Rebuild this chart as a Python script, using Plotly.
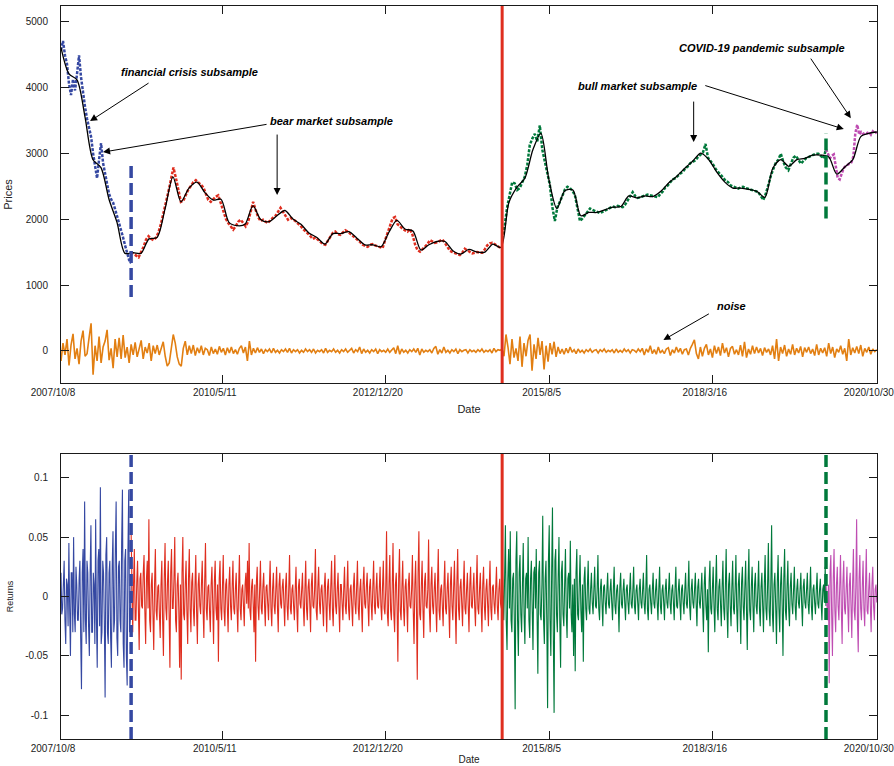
import pandas as pd
import plotly.graph_objects as go

# ---------------- data ----------------
start_date = "2007-10-08"
end_date = "2020-10-30"
# boundaries between subsamples: financial crisis | bear | bull | COVID-19
split_dates = ["2008-11-21", "2014-10-31", "2020-01-07"]
tick_dates = ["2007-10-08", "2010-05-11", "2012-12-20", "2015-08-05", "2018-03-16", "2020-10-30"]
tick_labels = ["2007/10/8", "2010/5/11", "2012/12/20", "2015/8/5", "2018/3/16", "2020/10/30"]

price_ticks = [0, 1000, 2000, 3000, 4000, 5000]
return_ticks = [-0.1, -0.05, 0, 0.05, 0.1]
return_tick_labels = ["-0.1", "-0.05", "0", "0.05", "0.1"]

crisis_prices = [
    4560, 4700, 4480, 4350, 4050, 3880, 4120, 3950, 4200, 4480,
    4150, 3900, 3700, 3520, 3380, 3250, 3000, 2780, 2620, 2900,
    3150, 2850, 2700, 2560, 2380, 2300, 2250, 2150, 2050, 1920,
    1820, 1720, 1600, 1480, 1380, 1330,
]
bear_prices = [
    1500, 1470, 1440, 1420, 1500, 1580, 1690, 1740, 1700, 1680,
    1720, 1800, 1930, 2080, 2250, 2420, 2600, 2780, 2620, 2450,
    2260, 2280, 2360, 2450, 2500, 2560, 2590, 2560, 2520, 2480,
    2380, 2290, 2260, 2300, 2340, 2360, 2250, 2120, 2010, 1940,
    1880, 1840, 1890, 1960, 1990, 1940, 1890, 1960, 2100, 2260,
    2140, 2030, 1970, 1990, 1960, 1940, 1990, 2020, 2050, 2110,
    2170, 2110, 2040, 1990, 2020, 2000, 1970, 1930, 1900, 1850,
    1820, 1780, 1740, 1700, 1720, 1690, 1650, 1620, 1610, 1670,
    1740, 1790, 1810, 1770, 1760, 1790, 1830, 1810, 1780, 1750,
    1720, 1680, 1650, 1610, 1590, 1580, 1610, 1620, 1600, 1590,
    1570, 1560, 1680, 1800, 1900, 2010, 2030, 1920, 1890, 1850,
    1830, 1810, 1850, 1760, 1620, 1530, 1505, 1540, 1580, 1620,
    1680, 1660, 1640, 1650, 1670, 1690, 1640, 1570, 1520, 1500,
    1480, 1470, 1455, 1490, 1550, 1530, 1500, 1480, 1490, 1500,
    1490, 1490, 1540, 1600, 1630, 1640, 1620, 1590, 1570, 1560,
]
bull_prices = [
    1700, 1900, 2180, 2380, 2560, 2540, 2440, 2470, 2560, 2640,
    2820, 3120, 3220, 3290, 3180, 3420, 3050, 2860, 2720, 2520,
    2180, 1970, 2180, 2260, 2350, 2450, 2490, 2470, 2430, 2360,
    2180, 1970, 2010, 2060, 2110, 2160, 2140, 2120, 2100, 2090,
    2110, 2130, 2150, 2170, 2190, 2180, 2200, 2190, 2180, 2220,
    2290, 2360, 2410, 2350, 2320, 2330, 2350, 2360, 2370, 2360,
    2350, 2340, 2330, 2380, 2420, 2480, 2510, 2560, 2600, 2620,
    2660, 2690, 2720, 2770, 2800, 2850, 2870, 2890, 2940, 2970,
    3010, 3140, 2930, 2880, 2830, 2760, 2720, 2680, 2630, 2580,
    2560, 2510, 2490, 2470, 2460, 2480, 2490, 2470, 2460, 2450,
    2440, 2430, 2410, 2350, 2290, 2380, 2530, 2650, 2760, 2850,
    2900, 2990, 2870, 2780, 2740, 2830, 2930, 2960, 2890, 2840,
    2880, 2920, 2940, 2960, 2970, 2990, 2990, 2950, 2920, 3060,
]
covid_prices = [
    3060, 2980, 2920, 2960, 2980, 2800, 2620, 2600, 2700, 2770,
    2800, 2820, 2840, 2860, 2950, 3300, 3430, 3280, 3320, 3290,
    3310, 3300, 3320, 3280, 3330, 3300, 3320,
]
# smoothed price level (black curve)
trend_prices = [
    4600, 4200, 4110, 3550, 2900, 2780, 2300, 1950, 1480, 1490,
    1480, 1700, 1720, 2150, 2640, 2260, 2470, 2560, 2400, 2290,
    2300, 1950, 1900, 1920, 2200, 1990, 1960, 2050, 2130, 2000,
    1920, 1790, 1720, 1620, 1780, 1780, 1810, 1710, 1610, 1610,
    1580, 1800, 1980, 1850, 1820, 1530, 1610, 1660, 1660, 1520,
    1470, 1540, 1500, 1500, 1620, 1570, 2250, 2480, 2620, 3050,
    3300, 2600, 2160, 2430, 2440, 2050, 2100, 2100, 2140, 2180,
    2190, 2350, 2320, 2350, 2340, 2420, 2550, 2650, 2770, 2880,
    3000, 2900, 2710, 2560, 2470, 2470, 2450, 2420, 2330, 2770,
    2900, 2800, 2900, 2920, 2970, 2970, 2940, 2680, 2790, 2900,
    3250, 3300, 3320,
]
# noise component (price minus smoothed level)
noise = [
    -150, 120, -60, 180, -220, 90, 260, -120, 40, -200, 150, 310, -80, -40, 200, 420, -360, 80,
    -150, 220, -180, 60, 150, 320, -140, 40, -260, 180, -90, 200, -120, 240, -100, 60, -180,
    100, -60, 130, -90, 40, 160, -120, 60, -30, 120, -150, 80, -40, 90, -60, 30, 140, -80,
    -230, -180, 60, 250, 120, -90, -200, -230, 40, 150, -60, 80,
    -40, 90, -70, 50, -30, 80, -60, 40, 20, -70, 60, -40, 30, -50, 70, -20, 40, -60, 50, -30,
    60, -40, 20, -50, 40, 80, -30, 60, -150, 150,
    -60, 40, -30, 50, -20, 30, -40, 20, -10, 30, -30, 40, -20, 10, -30, 20, -10, 30, -20, 40,
    -30, 20, -10, 20, -30, 10, -20, 30, -10, 20, -20, 30, -30, 10, -10, 20, -30, 40, -20, 10,
    -10, 30, -20, 10, -30, 20, -10, 30, -20, 10, 40, -30, 20, -10, 60, -40, 30, -20, 10, -30,
    20, -10, 30, -40, 20, -10, 10, -20, 30, -20, 10, 50, -40, 80, -50, 30, -20, 10, -30, 20,
    -10, 30, -20, 40, -60, 30, -20, 10, -10, 20, -30, 40, 70, -50, 20, -30, 60, -20, 10, -30,
    20, -10, 30, -40, 20, -10, 10, 20, -30, 20, -10, 10, -20, 20, -10, 30, -20, 10, -10, 20,
    -30, 40, -10, 20, 10,
    30, -80, 250, 60, -200, 180, -100, 40, -150, 220, -240, 120, -80, 160, 250, -300, 100, -120,
    200, -60, 150, -280, 80, -160, 120, -50, 140, -90, 60, -40,
    30, -50, 40, -30, 60, -20, 20, -40, 30, -20, 10, -30, 20, -10, 30, -20, 10, 20, -30, 20,
    -10, 30, -20, 10, -10, 20, -30, 30, -20, 10, -20, 30, -10, 20, -30, 20, 10, -20, 30, -10,
    40, -60, 30, -20, 80, -40, 20, -50, 60, -30, 10, -40, 30, 50, -70, 20, -30, 60, -20, 40,
    -50, 20, 30, -60, 40, 100, 170, -40, -120, 60,
    -80, 40, 100, -60, 30, -100, 80, -40, 60, -70, 120, -30, 50, -90, 40, 70, -50, 20, -60, 90,
    -80, 140, -100, 30, -50, 80, -40, 60, -30, 40, -70, 50, -20, 30, -60, 80, -120, 180, -150, 60,
    -40, 90, -80, 30, -50, 100, -60, 40, -30, 70, -90, 50, -20, 60, -40, 30, -70, 100, -60, 40,
    -30, 50, -80, 120, -40, 60, -100, 30, -20, 80, -50, 40, -150, 180, -60, 50, -30, 70, -40, 90,
    -80, 40, -20, 60, -50, 30, -10, 20,
]

crisis_returns = [
    .02, -.015, -.01, .02, .03, -.02, -.04, .015, .01, -.025, .045, -.01, -.05, .02, .02,
    -.03, .05, -.015, -.03, .025, .01, -.02, -.02, .015, .03, -.035, -.078, .02, .04, -.03,
    .08, -.02, -.04, .03, .02, -.025, -.05, .02, .06, -.03, -.03, .02, .01, -.04, .065,
    -.02, -.06, .03, .04, -.025, .092, -.04, -.03, .03, .02, -.02, -.085, .035, .05, -.03,
    -.04, .02, .03, -.035, -.06, .025, .055, -.03, -.02, .04, .08, -.035, -.05, .025, .03,
    -.02, -.03, .045, .09, -.04, -.06, .03, .04, -.05, -.075, .04, .09, -.03, -.02, .01,
]
bear_returns = [
    .055, -.015, -.03, .01, .04, -.02, -.02, .012, .03, -.01, -.045, .015, .02, -.008, -.01,
    .02, .035, -.012, -.04, .015, .03, -.01, .065, -.02, -.03, .01, .02, -.015, -.045, .01,
    .04, -.012, -.02, .008, .01, -.015, -.035, .01, .03, -.02, -.05, .015, .045, -.01, -.02,
    .012, .03, -.015, -.06, .02, .04, -.01, -.01, .015, .05, -.02, -.03, .01, .02, -.012,
    -.06, .01, -.07, .02, .05, -.015, -.02, .01, .03, -.012, -.04, .015, .04, -.01, -.03,
    .012, .02, -.01, -.025, .008, .035, -.012, -.04, .01, .02, -.008, -.015, .01, .03, -.01,
    -.035, .012, .045, -.01, -.02, .008, .01, -.012, -.03, .01, .025, -.008, -.04, .012, .03,
    -.01, -.02, .01, -.055, .015, .03, -.01, -.02, .008, .035, -.012, -.025, .01, .015, -.008,
    -.03, .01, .025, -.008, -.02, .008, .03, -.01, -.015, .006, .02, -.01, -.03, .008, .035,
    -.01, -.02, .006, .01, -.008, -.025, .01, .02, -.006, .03, -.01, .045, -.012, -.02, .008,
    .015, -.006, -.03, .01, -.055, .012, .025, -.008, -.02, .006, .03, -.01, -.015, .008, .02,
    -.006, -.025, .008, .01, -.006, -.02, .008, .03, -.01, -.025, .006, .02, -.008, -.015, .006,
    .025, -.008, -.03, .01, .02, -.006, -.01, .008, .015, -.006, -.025, .008, .02, -.008, -.02,
    .006, .035, -.01, -.015, .006, .01, -.008, -.02, .006, .025, -.01, -.03, .008, .015, -.006,
    -.01, .006, .02, -.008, -.025, .006, .03, -.01, -.02, .008, .015, -.006, -.03, .01, .02,
    -.008, -.01, .006, .04, -.012, -.02, .008, .025, -.006, -.015, .006, .01, -.008, -.025, .008,
    .02, -.006, -.03, .008, .015, -.006, -.02, .008, .03, -.01, -.025, .006, .035, -.008, -.015,
    .006, .02, -.008, -.03, .01, .01, -.006, -.02, .006, .025, -.008, -.015, .006, .03, -.01,
    -.02, .006, .01, -.008, -.025, .008, .02, -.006, -.015, .008, .03, -.01, -.02, .006, .015,
    -.008, -.03, .01, .025, -.006, -.01, .008, .02, -.006, -.025, .008, .015, -.006, -.02, .008,
    .03, -.008, -.015, .006, .02, -.008, -.01, .006, .025, -.008,
    -.02, .008, .03, -.01, -.015, .006, .055, -.015, -.025, .01, .035, -.012, -.02, .008, .045,
    -.015, -.03, .01, .02, -.008, -.055, .015, .04, -.012, -.02, .008, .03, -.01, -.025, .008,
    .015, -.006, -.03, .01, .02, -.008, -.01, .006, .035, -.012, -.04, .01, .03, -.01, -.07,
    .02, .055, -.015, -.02, .008, .03, -.01, -.035, .012, .02, -.008, -.01, .006, .048, -.012,
    -.03, .01, .025, -.008, -.015, .006, .02, -.008, -.03, .01, .04, -.012, -.02, .006, .01,
    -.008, -.025, .008, .03, -.01, -.015, .006, .02, -.008, -.035, .01, .025, -.008, -.02, .008,
    .03, -.01, -.04, .012, .04, -.01, -.02, .008, .015, -.006, -.025, .008, .03, -.01, -.015,
    .006, .02, -.008, -.03, .01, .025, -.008, -.01, .006, .02, -.008, -.025, .008, .035, -.01,
    -.015, .006, .02, -.008, -.03, .01, .025, -.008, -.02, .006, .015, -.006, -.025, .008, .03,
    -.01, -.02, .008, .01, -.006, -.015, .006, .025, -.008, -.02, .006, .015, -.006, -.01, .006,
]
bull_returns = [
    .03, -.01, -.02, .015, .06, -.02, -.045, .015, .04, -.01, .055, -.02, -.03, .015, .02,
    -.02, -.095, .03, .055, -.02, -.05, .02, .035, -.015, -.03, .01, .045, -.015, -.04, .015,
    .02, -.01, .05, -.02, -.035, .015, .03, -.01, -.045, .02, .025, -.01, .04, -.015, -.065,
    .02, .03, -.015, -.02, .01, .068, -.02, -.04, .015, .03, -.02, -.094, .03, .06, -.02,
    -.05, .02, .075, -.03, -.098, .03, .04, -.015, -.03, .015, .05, -.02, -.06, .02, .03,
    -.015, -.025, .01, .04, -.015, -.035, .015, .02, -.01, .047, -.015, -.03, .01, -.05, .015,
    -.063, .02, .04, -.015, -.02, .01, .035, -.012, -.03, .01, -.055, .015, .025, -.01, -.02,
    .008, .03, -.01, -.015, .006,
    .02, -.005, -.015, .006, .025, -.008, -.01, .005, .035, -.01, -.02, .006, .015, -.005, -.025,
    .008, .01, -.005, -.015, .005, .02, -.006, -.01, .005, .015, -.005, -.02, .006, .025, -.008,
    -.015, .005, .01, -.005, -.03, .008, .02, -.006, -.01, .005, .015, -.005, -.02, .006, .01,
    -.005, -.015, .005, .02, -.006, -.01, .005, .025, -.008, -.015, .005, .01, -.005, -.02, .006,
    .015, -.005, -.01, .005, .02, -.006, -.015, .005, .035, -.01, -.02, .006, .01, -.005, -.015,
    .005, .02, -.006, -.01, .005, .015, -.005, -.02, .006, .025, -.008, -.015, .005, .01, -.005,
    -.02, .006, .015, -.005, -.01, .005, .02, -.006, -.015, .005, .01, -.005, -.02, .006, .025,
    -.008, -.01, .005, .015, -.005, -.02, .006, .01, -.005, -.015, .005, .02, -.006, -.01, .005,
    .03, -.008, -.02, .006, .015, -.005, -.01, .005, .02, -.006, -.025, .008, .015, -.005, -.01,
    .005,
    .02, -.008, -.03, .01, .025, -.008, -.02, .006, -.047, .012, .03, -.01, -.015, .006, .025,
    -.008, -.03, .01, .035, -.01, -.02, .008, .015, -.006, -.025, .008, .03, -.01, -.02, .008,
    .04, -.012, -.035, .01, .02, -.008, -.025, .008, .03, -.01, -.015, .006, .035, -.01, -.03,
    .01, .02, -.008, -.04, .012, .025, -.008, -.02, .008, .03, -.01, -.045, .012, .04, -.012,
    -.02, .008, .025, -.008, -.03, .01, .02, -.008, -.015, .006, .03, -.01, -.025, .008, .02,
    -.008, -.03, .01, .035, -.01, -.02, .008, .045, -.012, -.025, .01, .06, -.015, -.03, .01,
    .02, -.008, -.04, .012, .035, -.01, -.03, .01, .025, -.008, -.05, .015, .04, -.012, -.02,
    .008, .03, -.01, -.025, .008,
    .02, -.006, -.015, .005, .025, -.008, -.02, .006, .015, -.005, -.01, .005, .02, -.006, -.025,
    .008, .015, -.005, -.01, .005, .02, -.006, -.015, .005, .025, -.008, -.02, .006, .01, -.005,
    -.015, .005, .02, -.006, -.01, .005, .015, -.005, -.02, .006, .01, -.005, .025, -.008,
]
covid_returns = [
    .01, -.005, -.02, .01, -.073, .02, .035, -.015, -.05, .015, .04, -.012, -.03, .01, .025,
    -.008, -.02, .008, .035, -.01, -.04, .012, .03, -.01, -.015, .006, .025, -.008, -.03, .01,
    .02, -.008, -.035, .01, .04, -.012, -.02, .008, .065, -.02, -.047, .015, .035, -.01, -.02,
    .008, .03, -.01, -.025, .008, .04, -.012, -.015, .006, .02, -.008, -.03, .01, .025, -.008,
    -.02, .006, .01, -.005,
]

# value span of the dashed subsample separators in the price panel
separator_spans = {"crisis": (820, 2850), "covid": (2010, 3300)}

# ---------------- styling ----------------
FONT = "Arial, 'Liberation Sans', Helvetica, sans-serif"
BLUE = "#3548a2"
RED = "#df2e1f"
GREEN = "#00793b"
MAGENTA = "#bf4db2"
ORANGE = "#e27f12"
INK = "#1a1a1a"

bounds = [start_date] + split_dates + [end_date]
segments = [
    (crisis_prices, crisis_returns, BLUE),
    (bear_prices, bear_returns, RED),
    (bull_prices, bull_returns, GREEN),
    (covid_prices, covid_returns, MAGENTA),
]

fig = go.Figure()

for i, (prices, rets, color) in enumerate(segments):
    d_price = pd.date_range(bounds[i], bounds[i + 1], periods=len(prices))
    fig.add_trace(go.Scatter(
        x=d_price, y=prices, mode="lines", xaxis="x", yaxis="y",
        line=dict(color=color, width=2.5, dash="3px,1.5px"), hoverinfo="skip"))

d_trend = pd.date_range(start_date, end_date, periods=len(trend_prices))
fig.add_trace(go.Scatter(
    x=d_trend, y=trend_prices, mode="lines", xaxis="x", yaxis="y",
    line=dict(color="black", width=1.3, shape="spline", smoothing=0.8), hoverinfo="skip"))

d_noise = pd.date_range(start_date, end_date, periods=len(noise))
fig.add_trace(go.Scatter(
    x=d_noise, y=noise, mode="lines", xaxis="x", yaxis="y",
    line=dict(color=ORANGE, width=1.6), hoverinfo="skip"))

for i, (prices, rets, color) in enumerate(segments):
    d_ret = pd.date_range(bounds[i], bounds[i + 1], periods=len(rets))
    fig.add_trace(go.Scatter(
        x=d_ret, y=rets, mode="lines", xaxis="x2", yaxis="y2",
        line=dict(color=color, width=1.1), hoverinfo="skip"))

# subsample separators
dash_pat = "12px,5px"
fig.add_shape(type="line", xref="x", yref="y", x0=split_dates[0], x1=split_dates[0],
              y0=separator_spans["crisis"][0], y1=separator_spans["crisis"][1],
              line=dict(color=BLUE, width=3.5, dash=dash_pat))
fig.add_shape(type="line", xref="x", yref="y domain", x0=split_dates[1], x1=split_dates[1],
              y0=0, y1=1, line=dict(color=RED, width=3))
fig.add_shape(type="line", xref="x", yref="y", x0=split_dates[2], x1=split_dates[2],
              y0=separator_spans["covid"][0], y1=separator_spans["covid"][1],
              line=dict(color=GREEN, width=3.5, dash=dash_pat))
fig.add_shape(type="line", xref="x2", yref="y2 domain", x0=split_dates[0], x1=split_dates[0],
              y0=0, y1=1, line=dict(color=BLUE, width=3.5, dash=dash_pat))
fig.add_shape(type="line", xref="x2", yref="y2 domain", x0=split_dates[1], x1=split_dates[1],
              y0=0, y1=1, line=dict(color=RED, width=3))
fig.add_shape(type="line", xref="x2", yref="y2 domain", x0=split_dates[2], x1=split_dates[2],
              y0=0, y1=1, line=dict(color=GREEN, width=3.5, dash=dash_pat))

# labels
label_font = dict(family=FONT, size=11, color="black")
labels = [
    ("financial crisis subsample", 0.158, 0.910),
    ("bear market subsample", 0.332, 0.843),
    ("bull market subsample", 0.706, 0.891),
    ("COVID-19 pandemic subsample", 0.859, 0.943),
    ("noise", 0.822, 0.591),
]
for text, xp, yp in labels:
    fig.add_annotation(text=f"<b><i>{text}</i></b>", xref="paper", yref="paper",
                       x=xp, y=yp, xanchor="center", yanchor="middle",
                       showarrow=False, font=label_font)

# arrows: (head date, head value, tail offset x, tail offset y)
arrows = [
    ("2008-03-26", 3485, 60, -39),
    ("2008-06-10", 3015, 165, -28),
    ("2011-03-25", 2364, 0, -62),
    ("2017-11-24", 3167, 0, -42),
    ("2020-04-20", 3364, -140, -44),
    ("2020-05-31", 3530, -41, -61),
    ("2017-05-31", 167, 47, -27),
]
for hx, hy, ax, ay in arrows:
    fig.add_annotation(text="", x=hx, y=hy, xref="x", yref="y", ax=ax, ay=ay,
                       showarrow=True, arrowhead=2, arrowsize=1.4, arrowwidth=1,
                       arrowcolor="black", standoff=0)

axis_style = dict(showline=True, linecolor=INK, linewidth=1, mirror="ticks",
                  ticks="inside", ticklen=8, tickcolor=INK, tickwidth=1,
                  showgrid=False, zeroline=False,
                  tickfont=dict(family=FONT, size=10, color="#222"))

x_range = [start_date, "2020-10-31 06:00"]

fig.update_layout(
    width=894, height=766,
    margin=dict(l=61, r=17, t=6, b=27),
    paper_bgcolor="white", plot_bgcolor="white",
    showlegend=False,
    font=dict(family=FONT, color="#222"),
    xaxis=dict(domain=[0, 1], anchor="y", type="date", range=x_range,
               tickmode="array", tickvals=tick_dates, ticktext=tick_labels,
               ticklabelshift=-8, ticklabeloverflow="allow", automargin=False,
               title=dict(text="Date", font=dict(family=FONT, size=11), standoff=8),
               **axis_style),
    yaxis=dict(domain=[0.4857, 1], anchor="x", range=[-485, 5230],
               tickmode="array", tickvals=price_ticks, ticklabelstandoff=10, automargin=False,
               title=dict(text="Prices", font=dict(family=FONT, size=11), standoff=10),
               **axis_style),
    xaxis2=dict(domain=[0, 1], anchor="y2", type="date", range=x_range,
                tickmode="array", tickvals=tick_dates, ticktext=tick_labels,
                ticklabelshift=-8, ticklabeloverflow="allow", automargin=False,
                title=dict(text="Date", font=dict(family=FONT, size=10), standoff=2),
                **axis_style),
    yaxis2=dict(domain=[0, 0.3888], anchor="x2", range=[-0.12, 0.12],
                tickmode="array", tickvals=return_ticks, ticktext=return_tick_labels,
                ticklabelstandoff=10, automargin=False,
                title=dict(text="Returns", font=dict(family=FONT, size=9), standoff=10),
                **axis_style),
)

fig.write_html("out.html")
